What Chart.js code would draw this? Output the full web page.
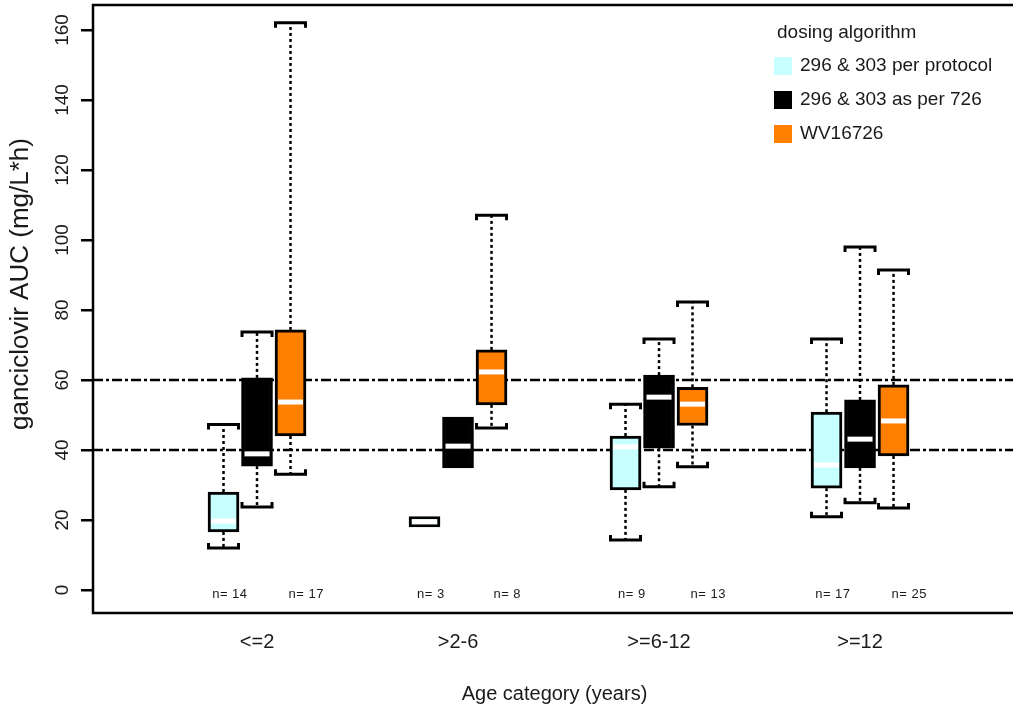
<!DOCTYPE html>
<html>
<head>
<meta charset="utf-8">
<title>Ganciclovir AUC by age category</title>
<script src="https://cdn.jsdelivr.net/npm/chart.js@4"></script>
<style>
  html, body { margin: 0; padding: 0; background: #fff; overflow: hidden; }
  #wrap { position: relative; width: 1020px; height: 708px; }
</style>
</head>
<body>
<div id="wrap"><canvas id="chart"></canvas></div>
<script>
// ---- data ----
const categories = ['<=2', '>2-6', '>=6-12', '>=12'];
const seriesNames = ['296 & 303 per protocol', '296 & 303 as per 726', 'WV16726'];

// each entry: [lower whisker, Q1, median, Q3, upper whisker] per age category
const perProtocol = [
  [12.0, 16.6, 19.7, 28.0, 47.3],
  [18.0, 18.0, 19.5, 21.0, 21.0],
  [14.3, 28.6, 40.9, 44.0, 53.1],
  [20.9, 29.1, 35.7, 50.8, 71.7]
];
const asPer726 = [
  [23.7, 35.4, 38.9, 60.6, 73.7],
  [34.9, 34.9, 41.1, 49.4, 49.4],
  [29.5, 40.5, 55.1, 61.4, 71.7],
  [24.9, 34.9, 43.1, 54.3, 98.0]
];
const wv16726 = [
  [33.1, 44.0, 53.7, 74.3, 162.1],
  [46.3, 52.9, 62.3, 68.6, 107.1],
  [35.2, 47.0, 53.1, 57.9, 82.3],
  [23.4, 38.3, 48.3, 58.6, 91.4]
];

// sample sizes printed under each group (296 & 303 patients, WV16726 patients)
const sampleSizes = [[14, 17], [3, 8], [9, 13], [17, 25]];

const yTickValues = [0, 20, 40, 60, 80, 100, 120, 140, 160];
const targetLines = [40, 60];

// ---- styling / layout ----
const seriesColors = ['#C8FFFF', '#000000', '#FF8000'];
const boxOffsets = [-1 / 6, 0, 1 / 6];        // position of each box inside its group (x units)
const nLabelOffsets = [-0.135, 0.245];         // position of the n= labels inside a group
const FONT = "'Liberation Sans', Arial, Helvetica, sans-serif";
const TEXT = '#1a1a1a';

const allSeries = [perProtocol, asPer726, wv16726];

const datasets = allSeries.map((series, i) => ({
  label: seriesNames[i],
  data: series.map((v, g) => ({ x: g + 1 + boxOffsets[i], y: [v[1], v[3]] })),
  backgroundColor: seriesColors[i],
  borderColor: '#000',
  borderWidth: 3,
  borderSkipped: false,
  grouped: false,
  barPercentage: 1,
  categoryPercentage: 1,
  maxBarThickness: 31
}));

// whiskers, caps, medians, reference lines, labels and legend
const boxplotDecor = {
  id: 'boxplotDecor',
  beforeDatasetsDraw(chart) {
    const { ctx, chartArea: a, scales: { x, y } } = chart;
    ctx.save();
    // dash-dot target range lines
    ctx.strokeStyle = '#000';
    ctx.lineWidth = 2.3;
    ctx.setLineDash([10, 3, 3, 3]);
    targetLines.forEach(v => {
      const py = y.getPixelForValue(v);
      ctx.beginPath();
      ctx.moveTo(a.left, py);
      ctx.lineTo(a.right, py);
      ctx.stroke();
    });
    // whiskers with bracket caps
    allSeries.forEach((series, i) => {
      series.forEach((v, g) => {
        const px = x.getPixelForValue(g + 1 + boxOffsets[i]);
        const parts = [[v[3], v[4], 1], [v[1], v[0], -1]];
        parts.forEach(([from, to, dir]) => {
          if (Math.abs(to - from) < 1e-9) return;
          const p0 = y.getPixelForValue(from);
          const p1 = y.getPixelForValue(to);
          ctx.setLineDash([3, 3]);
          ctx.lineWidth = 2.5;
          ctx.beginPath();
          ctx.moveTo(px, p0);
          ctx.lineTo(px, p1);
          ctx.stroke();
          ctx.setLineDash([]);
          ctx.lineWidth = 3;
          const leg = 5 * dir;
          ctx.beginPath();
          ctx.moveTo(px - 15, p1 + leg);
          ctx.lineTo(px - 15, p1);
          ctx.lineTo(px + 15, p1);
          ctx.lineTo(px + 15, p1 + leg);
          ctx.stroke();
        });
      });
    });
    ctx.restore();
  },
  afterDatasetsDraw(chart) {
    const { ctx, chartArea: a, scales: { x, y } } = chart;
    ctx.save();
    // medians
    ctx.strokeStyle = '#fff';
    ctx.lineWidth = 5;
    allSeries.forEach((series, i) => {
      series.forEach((v, g) => {
        const px = x.getPixelForValue(g + 1 + boxOffsets[i]);
        const py = y.getPixelForValue(v[2]);
        ctx.beginPath();
        ctx.moveTo(px - 12.5, py);
        ctx.lineTo(px + 12.5, py);
        ctx.stroke();
      });
    });
    // n= labels
    ctx.fillStyle = TEXT;
    ctx.font = '13px ' + FONT;
    ctx.textAlign = 'center';
    ctx.textBaseline = 'middle';
    if ('letterSpacing' in ctx) ctx.letterSpacing = '0.5px';
    sampleSizes.forEach((pair, g) => {
      pair.forEach((n, k) => {
        const px = x.getPixelForValue(g + 1 + nLabelOffsets[k]);
        ctx.fillText('n= ' + n, px, a.bottom - 19);
      });
    });
    if ('letterSpacing' in ctx) ctx.letterSpacing = '0px';
    // frame
    ctx.strokeStyle = '#000';
    ctx.lineWidth = 2.5;
    ctx.strokeRect(a.left, a.top, a.right - a.left, a.bottom - a.top);
    // y tick labels (parallel to the axis)
    ctx.font = '19px ' + FONT;
    y.ticks.forEach(t => {
      const py = y.getPixelForValue(t.value);
      ctx.save();
      ctx.translate(63, py);
      ctx.rotate(-Math.PI / 2);
      ctx.textAlign = 'center';
      ctx.textBaseline = 'middle';
      ctx.fillText(String(t.value), 0, 0);
      ctx.restore();
    });
    // y axis title
    ctx.save();
    ctx.font = '26px ' + FONT;
    ctx.translate(21, 284);
    ctx.rotate(-Math.PI / 2);
    ctx.textAlign = 'center';
    ctx.textBaseline = 'middle';
    ctx.fillText('ganciclovir AUC (mg/L*h)', 0, 0);
    ctx.restore();
    // legend
    ctx.font = '19px ' + FONT;
    ctx.textAlign = 'left';
    ctx.textBaseline = 'middle';
    ctx.fillText('dosing algorithm', 777, 33);
    seriesNames.forEach((name, i) => {
      const cy = 66 + i * 34;
      ctx.fillStyle = seriesColors[i];
      ctx.fillRect(774, cy - 9, 18, 18);
      ctx.fillStyle = TEXT;
      ctx.fillText(name, 800, cy);
    });
    ctx.restore();
  }
};

new Chart(document.getElementById('chart'), {
  type: 'bar',
  data: { datasets },
  options: {
    responsive: true,
    maintainAspectRatio: false,
    animation: false,
    layout: { padding: { top: 5, right: 4, left: 0, bottom: 0 } },
    plugins: { legend: { display: false }, tooltip: { enabled: false } },
    scales: {
      x: {
        type: 'linear',
        offset: false,
        min: 0.184,
        max: 4.776,
        afterBuildTicks: s => { s.ticks = categories.map((c, i) => ({ value: i + 1 })); },
        afterFit: s => { s.height = 95; },
        grid: { display: false, drawTicks: false, offset: false },
        border: { display: false },
        ticks: {
          callback: v => categories[Math.round(v) - 1],
          font: { family: FONT, size: 20 },
          color: TEXT,
          padding: 17,
          maxRotation: 0,
          autoSkip: false
        },
        title: {
          display: true,
          text: 'Age category (years)',
          font: { family: FONT, size: 20 },
          color: TEXT,
          padding: { top: 0, bottom: 2 }
        }
      },
      y: {
        type: 'linear',
        min: -6.57,
        max: 167.14,
        afterBuildTicks: s => { s.ticks = yTickValues.map(v => ({ value: v })); },
        afterFit: s => { s.width = 93; },
        grid: { drawOnChartArea: false, drawTicks: true, tickLength: 12, color: '#000', lineWidth: 2.5 },
        border: { display: false },
        ticks: { display: false }
      }
    }
  },
  plugins: [boxplotDecor]
});
</script>
</body>
</html>
